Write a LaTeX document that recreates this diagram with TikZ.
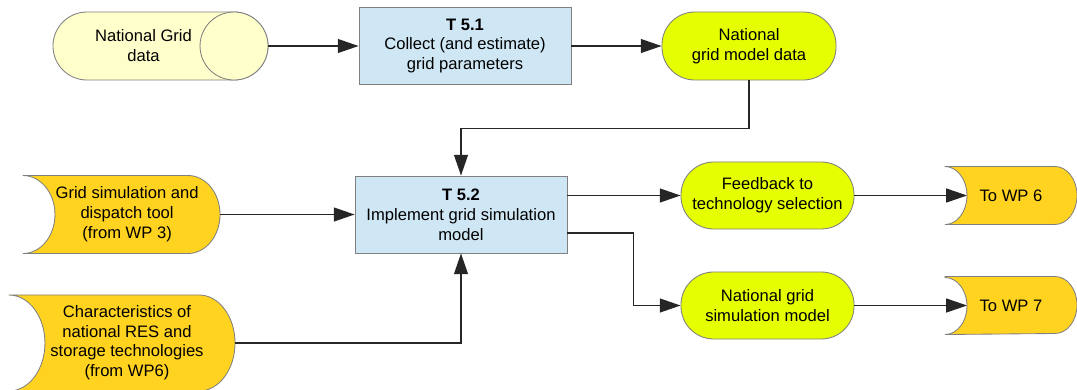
\documentclass[tikz,border=0pt]{standalone}
\usepackage{fontspec}
\setmainfont{Liberation Sans}
\usepackage{tikz}
\usetikzlibrary{arrows.meta,backgrounds}
\definecolor{paleyellow}{HTML}{FFFFCC}
\definecolor{taskblue}{HTML}{CFE7F5}
\definecolor{resultlime}{HTML}{E6FF00}
\definecolor{inputgold}{HTML}{FFD320}
\definecolor{edgegray}{HTML}{808080}
\def\px{0.025cm}
\newcommand{\diagfont}{\fontsize{11.8}{14.2}\selectfont}
\newcommand{\shiftedtext}[2]{\hspace*{#1}\begin{tabular}{@{}c@{}}#2\end{tabular}}
% stored-data outline round a named node: node, x radius, y radius (px)
\newcommand{\storedoutline}[3]{%
  \draw[draw=edgegray, line width=0.6pt, fill=inputgold] (#1.north west) -- ([xshift=-#2*\px]#1.north east)
    arc[start angle=90, end angle=-90, x radius=#2, y radius=#3] -- (#1.south west)
    arc[start angle=-90, end angle=90, x radius=#2, y radius=#3] -- cycle;}

\begin{document}
\begin{tikzpicture}[x=\px, y=\px, every node/.style={font=\diagfont},
    task/.style={draw=edgegray, line width=0.6pt, fill=taskblue, align=center, minimum width=5.3cm, minimum height=1.925cm},
    result/.style={draw=edgegray, line width=0.6pt, fill=resultlime, rounded corners=0.82cm, align=center, minimum width=4.325cm, minimum height=1.675cm},
    stored/.style={inner sep=0pt, outer sep=0pt},
    conn/.style={draw=black!85, line width=0.9pt, -{Triangle[length=0.52cm, width=0.35cm]}}]
  \useasboundingbox (0,0) rectangle (1077,-389);

  \node[stored, align=center, minimum width=4.525cm, minimum height=1.7cm] (ngd) at (143.5,-46) {National Grid\\data};
  \node[task] (t51) at (465,-46) {\textbf{T 5.1}\\Collect (and estimate)\\grid parameters};
  \node[result, minimum width=4.35cm, minimum height=1.7cm] (gmd) at (749,-46) {National\\grid model data};

  \node[stored, minimum width=4.925cm, minimum height=1.95cm] (tool) at (121.5,-214.5) {\shiftedtext{0.28cm}{Grid simulation and\\dispatch tool\\(from WP 3)}};
  \node[task] (t52) at (461,-214.5) {\textbf{T 5.2}\\Implement grid simulation\\model};
  \node[stored, minimum width=5.65cm, minimum height=2.4cm] (chars) at (122,-343) {\shiftedtext{0.25cm}{Characteristics of\\national RES and\\storage technologies\\(from WP6)}};

  \node[result] (fb) at (767.5,-195.5) {Feedback to\\technology selection};
  \node[result] (sim) at (767.5,-305.5) {National grid\\simulation model};
  \node[stored, minimum width=3.3cm, minimum height=1.45cm] (wp6) at (1011,-195.5) {To WP 6};
  \node[stored, minimum width=3.3cm, minimum height=1.45cm] (wp7) at (1011,-305.5) {To WP 7};

  \begin{scope}[on background layer]
    \draw[draw=edgegray, line width=0.6pt, fill=paleyellow] ([xshift=34*\px]ngd.north west) -- (ngd.north east)
      arc[start angle=90, end angle=-90, radius=34] -- ([xshift=34*\px]ngd.south west)
      arc[start angle=270, end angle=90, radius=34] -- cycle;
    \draw[draw=edgegray, line width=0.6pt, fill=paleyellow] (ngd.east) circle[radius=34];
    \storedoutline{tool}{32}{39}
    \storedoutline{chars}{36}{48}
    \storedoutline{wp6}{22}{29}
    \storedoutline{wp7}{22}{28.5}
  \end{scope}

  \draw[conn] ([xshift=34*\px]ngd.east) -- (t51.west);
  \draw[conn] (t51.east) -- (gmd.west);
  \draw[conn] (gmd.south) -- ++(0,-48) -| (t52.north);
  \draw[conn] (tool.east) -- (t52.west);
  \draw[conn] (chars.east) -| (t52.south);
  \draw[conn] (t52.east |- fb.west) -- (fb.west);
  \draw[conn] ([yshift=-18.5*\px]t52.east) -- ++(66,0) |- (sim.west);
  \draw[conn] (fb.east) -- ([xshift=22*\px]wp6.west);
  \draw[conn] (sim.east) -- ([xshift=22*\px]wp7.west);
\end{tikzpicture}
\end{document}
